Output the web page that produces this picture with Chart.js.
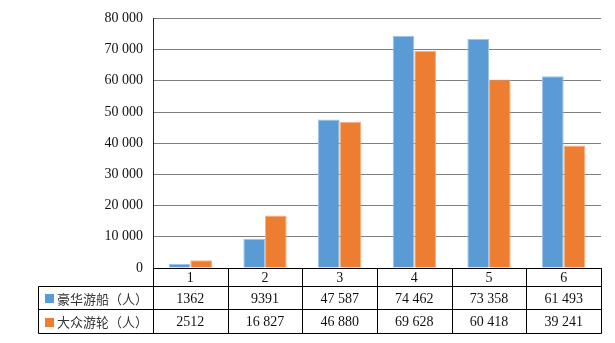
<!DOCTYPE html>
<html><head><meta charset="utf-8">
<script src="https://cdn.jsdelivr.net/npm/chart.js@4/dist/chart.umd.min.js"></script>
<style>html,body{margin:0;padding:0;background:#fff}#wrap{width:615px;height:343px}</style>
</head><body><div id="wrap"><canvas id="c" width="615" height="343"></canvas></div>
<script>
const categories = ['1','2','3','4','5','6'];
const seriesNames = ['豪华游船（人）','大众游轮（人）'];
const luxury = [1362, 9391, 47587, 74462, 73358, 61493];
const mass = [2512, 16827, 46880, 69628, 60418, 39241];
const colors = ['#5B9BD5','#ED7D31'];
const edge = ['#9DC3E6','#F4B183'];

function fmt(n){
  if (Math.abs(n) < 10000) return String(n);
  return String(n).replace(/\B(?=(\d{3})+(?!\d))/g,' ');
}
const SERIF = '"Liberation Serif","Times New Roman",serif';
const CJK = '"Noto Sans CJK SC","Noto Sans",sans-serif';

const tablePlugin = {
  id:'dataTable',
  afterDraw(chart){
    const ctx = chart.ctx, xs = chart.scales.x, area = chart.chartArea;
    const n = categories.length;
    const step = xs.getPixelForValue(1) - xs.getPixelForValue(0);
    const bounds = [];
    for (let i=0;i<=n;i++) bounds.push(Math.round(xs.getPixelForValue(0) - step/2 + i*step)+0.5);
    const tableLeft = 38.5;
    const y0 = Math.round(area.bottom)+0.5, y1 = y0+18, y2 = y1+23, y3 = y2+24;
    ctx.save();
    ctx.strokeStyle = '#000'; ctx.lineWidth = 1;
    ctx.beginPath();
    ctx.moveTo(bounds[0], y0); ctx.lineTo(bounds[n], y0);
    ctx.moveTo(tableLeft, y1); ctx.lineTo(bounds[n], y1);
    ctx.moveTo(tableLeft, y2); ctx.lineTo(bounds[n], y2);
    ctx.moveTo(tableLeft, y3); ctx.lineTo(bounds[n], y3);
    for (let i=0;i<=n;i++){ ctx.moveTo(bounds[i], y0); ctx.lineTo(bounds[i], y3); }
    ctx.moveTo(tableLeft, y1); ctx.lineTo(tableLeft, y3);
    ctx.stroke();
    ctx.fillStyle = '#111';
    ctx.textAlign = 'center'; ctx.textBaseline = 'middle';
    ctx.font = '14px ' + SERIF;
    const rows = [luxury, mass];
    for (let i=0;i<n;i++){
      const cx = xs.getPixelForValue(i);
      ctx.fillText(categories[i], cx, (y0+y1)/2+1);
      for (let r=0;r<2;r++){
        ctx.fillText(fmt(rows[r][i]), cx, (r===0?(y1+y2)/2:(y2+y3)/2)+1);
      }
    }
    for (let r=0;r<2;r++){
      const cy = r===0?(y1+y2)/2:(y2+y3)/2;
      ctx.fillStyle = colors[r];
      ctx.fillRect(45, Math.round(cy)-4, 9, 9);
      ctx.fillStyle = '#333';
      ctx.textAlign = 'left';
      ctx.font = '13px ' + CJK;
      const chars = Array.from(seriesNames[r]);
      chars.forEach((ch,k)=>ctx.fillText(ch, 57 + k*13, cy+1));
    }
    ctx.restore();
  }
};

new Chart(document.getElementById('c'), {
  type:'bar',
  data:{
    labels: categories,
    datasets:[
      {label:seriesNames[0], data:luxury, backgroundColor:colors[0], borderColor:edge[0], borderWidth:{top:1,left:1,right:1,bottom:0}},
      {label:seriesNames[1], data:mass, backgroundColor:colors[1], borderColor:edge[1], borderWidth:{top:1,left:1,right:1,bottom:0}}
    ]
  },
  options:{
    responsive:false, animation:false,
    layout:{padding:{top:17,right:14,bottom:75,left:0}},
    plugins:{legend:{display:false},tooltip:{enabled:false}},
    datasets:{bar:{categoryPercentage:0.58,barPercentage:1}},
    scales:{
      x:{
        grid:{display:false,drawTicks:false},
        border:{display:true,color:'#000'},
        ticks:{display:false},
        afterFit(s){ s.height = 0; }
      },
      y:{
        min:0,max:80000,
        ticks:{stepSize:10000,padding:10,color:'#111',font:{family:SERIF,size:14},callback:v=>fmt(v)},
        grid:{color:'#7f7f7f',drawTicks:false},
        border:{display:true,color:'#222'},
        afterFit(s){ s.width = 153; }
      }
    }
  },
  plugins:[tablePlugin]
});
</script></body></html>
